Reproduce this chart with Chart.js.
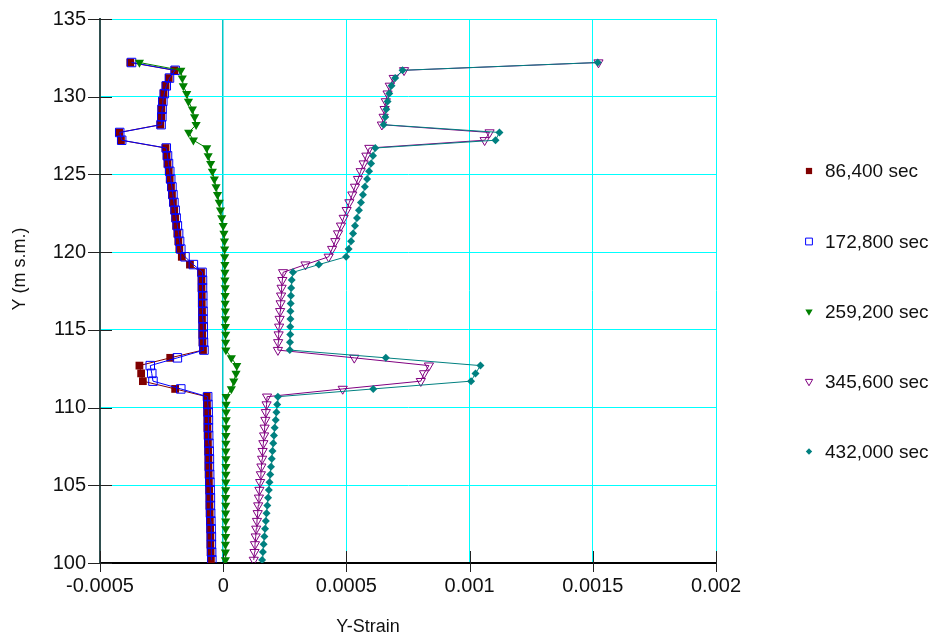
<!DOCTYPE html>
<html>
<head>
<meta charset="utf-8">
<title>Y-Strain</title>
<script src="https://cdn.jsdelivr.net/npm/chart.js@4.4.1/dist/chart.umd.min.js"></script>
<style>
  html, body { margin: 0; padding: 0; background: #fff; }
  #wrap { width: 937px; height: 634px; }
</style>
</head>
<body>
<div id="wrap"><canvas id="strainChart" width="937" height="634"></canvas></div>
<script>
// node elevations (m s.m.)
var elevations = [
  100.2, 100.7, 101.2, 101.7, 102.2, 102.7, 103.2, 103.7, 104.2, 104.7,
  105.2, 105.7, 106.2, 106.7, 107.2, 107.7, 108.2, 108.7, 109.2, 109.7,
  110.2, 110.7, 111.2, 111.7, 112.2, 112.7, 113.2, 113.7, 114.2, 114.7,
  115.2, 115.7, 116.2, 116.7, 117.2, 117.7, 118.2, 118.7, 119.2, 119.7,
  120.2, 120.7, 121.2, 121.7, 122.2, 122.7, 123.2, 123.7, 124.2, 124.7,
  125.2, 125.7, 126.2, 126.7, 127.2, 127.7, 128.2, 128.7, 129.2, 129.7,
  130.2, 130.7, 131.2, 131.7, 132.2
];

// Y-strain at each node, in micro-strain (x 1e-6)
var strain86400 = [
  -50, -51, -52, -52, -53, -54, -55, -56, -56, -57,
  -58, -59, -60, -60, -61, -62, -63, -64, -64, -65,
  -66, -67, -195, -326, -333, -340, -215, -82, -84, -85,
  -85, -86, -86, -87, -87, -88, -88, -90, -135, -168,
  -178, -182, -186, -191, -195, -199, -204, -208, -212, -217,
  -221, -226, -230, -234, -415, -422, -255, -252, -251, -248,
  -242, -234, -221, -198, -377
];
var strain172800 = [
  -46, -47, -48, -48, -49, -50, -51, -52, -52, -53,
  -54, -55, -56, -56, -57, -58, -59, -60, -60, -61,
  -62, -63, -172, -285, -290, -296, -186, -78, -80, -81,
  -81, -82, -82, -83, -83, -84, -84, -86, -121, -155,
  -172, -177, -181, -186, -191, -195, -200, -204, -208, -213,
  -217, -222, -226, -231, -412, -420, -252, -249, -248, -245,
  -239, -231, -218, -195, -372
];
var strain259200 = [
  9, 9, 9, 10, 10, 10, 10, 10, 10, 10,
  11, 11, 11, 11, 11, 11, 11, 12, 12, 12,
  12, 12, 33, 43, 52, 55, 33, 11, 10, 10,
  9, 9, 9, 8, 8, 8, 7, 7, 7, 6,
  6, 5, 3, 0, -6, -11, -16, -23, -29, -36,
  -44, -51, -61, -67, -121, -140, -110, -116, -125, -141,
  -148, -162, -166, -172, -340
];
var strain345600 = [
  124, 127, 129, 132, 134, 137, 140, 142, 145, 147,
  150, 153, 155, 158, 160, 163, 166, 168, 171, 173,
  176, 178, 485, 802, 815, 835, 532, 222, 223, 225,
  227, 229, 231, 233, 235, 237, 240, 243, 334, 428,
  442, 455, 466, 478, 489, 501, 512, 524, 535, 547,
  558, 570, 581, 593, 1061, 1081, 644, 651, 655, 660,
  667, 676, 692, 734, 1523
];
var strain432000 = [
  158, 161, 164, 167, 170, 173, 176, 179, 182, 185,
  188, 191, 194, 197, 200, 203, 206, 209, 213, 216,
  219, 222, 609, 1006, 1024, 1044, 660, 270, 271, 272,
  272, 273, 273, 274, 275, 276, 278, 283, 388, 499,
  509, 519, 527, 535, 543, 551, 559, 567, 575, 584,
  592, 600, 608, 617, 1105, 1121, 651, 658, 662, 667,
  674, 683, 698, 728, 1520
];

var seriesLabels = ["86,400 sec", "172,800 sec", "259,200 sec", "345,600 sec", "432,000 sec"];
var xTickValues = [-0.0005, 0, 0.0005, 0.001, 0.0015, 0.002];
var xTickLabels = ["-0.0005", "0", "0.0005", "0.001", "0.0015", "0.002"];
var yTickValues = [100, 105, 110, 115, 120, 125, 130, 135];
var yTickLabels = ["100", "105", "110", "115", "120", "125", "130", "135"];

function profile(strains) {
  return strains.map(function (s, i) {
    return { x: s * 1e-6, y: elevations[i] };
  });
}

// marker look per series: colour, style, filled or hollow
var markers = [
  { color: "#800000", style: "rect", radius: 5.5, rotation: 0, filled: true },
  { color: "#0000ff", style: "rect", radius: 6, rotation: 0, filled: false },
  { color: "#008000", style: "triangle", radius: 5.3, rotation: 180, filled: true },
  { color: "#800080", style: "triangle", radius: 5.3, rotation: 180, filled: false },
  { color: "#008080", style: "rectRot", radius: 4, rotation: 0, filled: true }
];
var seriesData = [strain86400, strain172800, strain259200, strain345600, strain432000];

var datasets = seriesData.map(function (s, i) {
  var m = markers[i];
  return {
    label: seriesLabels[i],
    data: profile(s),
    showLine: true,
    borderColor: m.color,
    borderWidth: 1,
    pointStyle: m.style,
    pointRotation: m.rotation,
    pointRadius: m.radius,
    pointBackgroundColor: m.filled ? m.color : "rgba(0,0,0,0)",
    pointBorderColor: m.color,
    pointBorderWidth: m.filled ? 0 : 1,
    order: 4 - i
  };
});

Chart.defaults.font.family = '"Liberation Sans", Arial, sans-serif';
Chart.defaults.color = "#111";

// tick marks crossing the axes, axis titles and the legend column
var decorations = {
  id: "decorations",
  beforeDatasetsDraw: function (chart) {
    var ctx = chart.ctx, a = chart.chartArea;
    var xs = chart.scales.x, ys = chart.scales.y;
    ctx.save();
    ctx.strokeStyle = "#222";
    ctx.lineWidth = 1;
    ctx.beginPath();
    yTickValues.forEach(function (v) {
      var py = Math.round(ys.getPixelForValue(v)) + 0.5;
      ctx.moveTo(a.left - 12, py);
      ctx.lineTo(a.left + 12, py);
    });
    xTickValues.forEach(function (v) {
      var px = Math.round(xs.getPixelForValue(v)) + 0.5;
      ctx.moveTo(px, a.bottom + 9);
      ctx.lineTo(px, a.bottom - 12);
    });
    ctx.stroke();
    ctx.restore();
  },
  afterDraw: function (chart) {
    var ctx = chart.ctx;
    ctx.save();
    ctx.fillStyle = "#111";
    ctx.font = '18px "Liberation Sans", Arial, sans-serif';
    ctx.textAlign = "center";
    ctx.textBaseline = "middle";
    ctx.fillText("Y-Strain", 368, 627);
    ctx.save();
    ctx.translate(20, 269);
    ctx.rotate(-Math.PI / 2);
    ctx.fillText("Y (m s.m.)", 0, 0);
    ctx.restore();

    ctx.font = '19px "Liberation Sans", Arial, sans-serif';
    ctx.textAlign = "left";
    var rows = [171, 241.5, 311.5, 381.5, 451.5];
    markers.forEach(function (m, i) {
      ctx.fillStyle = m.filled ? m.color : "#fff";
      ctx.strokeStyle = m.color;
      ctx.lineWidth = 1;
      Chart.helpers.drawPoint(ctx, {
        pointStyle: m.style,
        radius: m.radius * 0.8,
        rotation: m.rotation,
        borderWidth: m.filled ? 0 : 1
      }, 809, rows[i]);
      ctx.fillStyle = "#111";
      ctx.fillText(seriesLabels[i], 825, rows[i] + 1);
    });
    ctx.restore();
  }
};

new Chart(document.getElementById("strainChart"), {
  type: "scatter",
  data: { datasets: datasets },
  options: {
    responsive: false,
    animation: false,
    layout: { padding: { top: 19, right: 221, left: 0, bottom: 0 } },
    plugins: { legend: { display: false }, tooltip: { enabled: false } },
    scales: {
      x: {
        type: "linear",
        min: -0.0005,
        max: 0.002,
        afterBuildTicks: function (s) {
          s.ticks = xTickValues.map(function (v) { return { value: v }; });
        },
        afterFit: function (s) {
          s.height = 71;
          s.paddingLeft = 0;
          s.paddingRight = 0;
        },
        ticks: {
          font: { size: 20 },
          color: "#111",
          padding: 11,
          maxRotation: 0,
          callback: function (v, i) { return xTickLabels[i]; }
        },
        grid: {
          drawTicks: false,
          color: function (c) {
            return c.tick && c.tick.value === 0 ? "#00c8c8" : "#00ffff";
          },
          lineWidth: function (c) {
            return c.tick && c.tick.value === 0 ? 1.5 : 1;
          }
        },
        border: { display: true, color: "#000", width: 2 }
      },
      y: {
        type: "linear",
        min: 100,
        max: 135,
        afterBuildTicks: function (s) {
          s.ticks = yTickValues.map(function (v) { return { value: v }; });
        },
        afterFit: function (s) {
          s.width = 100;
          s.paddingTop = 0;
          s.paddingBottom = 0;
        },
        ticks: {
          font: { size: 20 },
          color: "#111",
          padding: 14,
          callback: function (v, i) { return yTickLabels[i]; }
        },
        grid: { drawTicks: false, color: "#00ffff", lineWidth: 1 },
        border: { display: true, color: "#2f4f4f", width: 2 }
      }
    }
  },
  plugins: [decorations]
});
</script>
</body>
</html>
